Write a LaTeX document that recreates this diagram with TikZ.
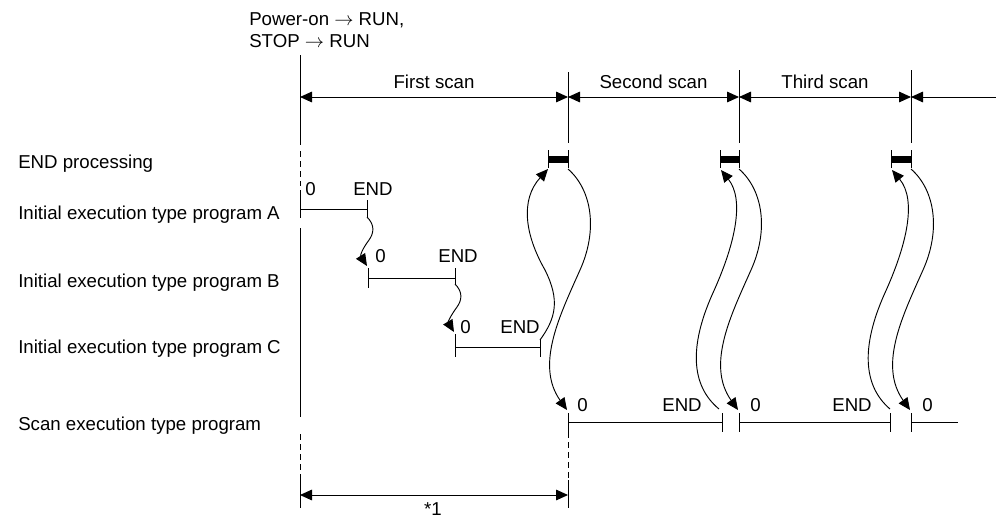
\documentclass[tikz,border=0pt]{standalone}
\usepackage{fontspec}
\setmainfont{Liberation Sans}
\usetikzlibrary{arrows.meta}

\begin{document}
\begin{tikzpicture}[x=0.75pt,y=-0.75pt]
	\tikzstyle{tline}=[draw,black,line width=0.7pt]
	\tikzstyle{dline}=[tline,dash pattern=on 4.5pt off 3pt]
	\tikzstyle{flow}=[tline,-{Triangle[length=9pt,width=8pt]}]
	\tikzstyle{dim}=[tline,{Triangle[length=9pt,width=8pt]}-{Triangle[length=9pt,width=8pt]}]
	\tikzstyle{lbl}=[inner sep=0pt,font=\fontsize{14}{16.5}\selectfont]

	\useasboundingbox (0,0) rectangle (996,519);

	% row titles
	\node[lbl,anchor=base west] (endproc) at (18,168) {END processing};
	\node[lbl,anchor=base west] (progA) at (18,219) {Initial execution type program A};
	\node[lbl,anchor=base west] (progB) at (18,287) {Initial execution type program B};
	\node[lbl,anchor=base west] (progC) at (18,353) {Initial execution type program C};
	\node[lbl,anchor=base west] (progS) at (18,430) {Scan execution type program};
	\node[lbl,anchor=base west,align=left] (trig) at (249,47) {Power-on $\rightarrow$ RUN,\\STOP $\rightarrow$ RUN};

	% scan borders
	\coordinate (s0) at (300,97);
	\coordinate (s1) at (568,97);
	\coordinate (s2) at (739,97);
	\coordinate (s3) at (911,97);
	\coordinate (s4) at (996,97);
	\draw[dim] (s0) -- node[lbl,above=6pt] (scan1) {First scan} (s1);
	\draw[dim] (s1) -- node[lbl,above=6pt] (scan2) {Second scan} (s2);
	\draw[dim] (s2) -- node[lbl,above=6pt] (scan3) {Third scan} (s3);
	\draw[tline,{Triangle[length=9pt,width=8pt]}-] (s3) -- (s4);
	\draw[tline] (568,72) -- (568,143);
	\draw[tline] (739,70) -- (739,143);
	\draw[tline] (911,70) -- (911,143);

	% time origin line
	\draw[tline] (300,55) -- (300,145);
	\draw[dline] (300,151) -- (300,186);
	\draw[tline] (300,190) -- (300,218);
	\draw[tline] (300,228) -- (300,417);
	\draw[dline] (300,434) -- (300,480);
	\draw[tline] (300,480) -- (300,508);
	\draw[dline] (568,432) -- (568,480);
	\draw[tline] (568,480) -- (568,508);

	% END processing
	\foreach \xl/\xr in {548/568,720/739,891/911} {
		\draw[tline] (\xl,150) -- (\xl,168);
		\draw[tline] (\xr,150) -- (\xr,168);
		\fill[black] (\xl,155.5) rectangle (\xr,162.5);
	}

	% program A
	\coordinate (aS) at (300,209);
	\coordinate (aE) at (367,209);
	\coordinate (aTail) at (367,217);
	\draw[tline] (aS) -- (aE);
	\draw[tline] (367,200) -- (aTail);
	\node[lbl,anchor=base west] (a0) at (305,195) {0};
	\node[lbl,anchor=base] (aEnd) at (373,195) {END};

	% program B
	\coordinate (bHead) at (367,266);
	\coordinate (bS) at (368,278);
	\coordinate (bE) at (455,278);
	\coordinate (bTail) at (455,284);
	\draw[tline] (bS) -- (bE);
	\draw[tline] (368,268) -- (368,288);
	\draw[tline] (455,268) -- (bTail);
	\node[lbl,anchor=base west] (b0) at (375,262) {0};
	\node[lbl,anchor=base] (bEnd) at (458,262) {END};
	\draw[flow] (aTail) .. controls (375,225) and (374,233) .. (369,240)
		.. controls (363,248) and (360,255) .. (bHead);

	% program C
	\coordinate (cHead) at (454,332);
	\coordinate (cS) at (455,347);
	\coordinate (cE) at (540,347);
	\coordinate (cTail) at (540,340);
	\draw[tline] (cS) -- (cE);
	\draw[tline] (455,334) -- (455,357);
	\draw[tline] (cTail) -- (540,357);
	\node[lbl,anchor=base west] (c0) at (460,333) {0};
	\node[lbl,anchor=base] (cEnd) at (520,333) {END};
	\draw[flow] (bTail) .. controls (463,292) and (462,300) .. (457,307)
		.. controls (451,315) and (448,322) .. (cHead);

	% scan program
	\draw[tline] (568,422) -- (722,422);
	\draw[tline] (739,422) -- (890,422);
	\draw[tline] (911,422) -- (958,422);
	\foreach \x in {568,722,739,890,911}
		\draw[tline] (\x,413) -- (\x,432);
	\node[lbl,anchor=base west] (d0) at (577,411) {0};
	\node[lbl,anchor=base] (dEnd) at (682,411) {END};
	\node[lbl,anchor=base west] (e0) at (750,411) {0};
	\node[lbl,anchor=base] (eEnd) at (852,411) {END};
	\node[lbl,anchor=base west] (f0) at (922,411) {0};

	% jumps to and from END processing
	\coordinate (bar1L) at (548,169);
	\coordinate (bar1R) at (568,169);
	\coordinate (bar2L) at (721,170);
	\coordinate (bar2R) at (739,169);
	\coordinate (bar3L) at (892,170);
	\coordinate (bar3R) at (911,169);
	\coordinate (dHead) at (567,410);
	\coordinate (dTail) at (719,409);
	\coordinate (eHead) at (738,410);
	\coordinate (eTail) at (890,409);
	\coordinate (fHead) at (910,410);
	\draw[flow] (cTail) .. controls (556,318) and (560,300) .. (545,270)
		.. controls (525,235) and (520,200) .. (bar1L);
	\draw[flow] (bar1R) .. controls (592,190) and (598,230) .. (580,270)
		.. controls (560,315) and (535,365) .. (dHead);
	\draw[flow] (dTail) .. controls (690,385) and (690,345) .. (712,295)
		.. controls (735,245) and (745,200) .. (bar2L);
	\draw[flow] (bar2R) .. controls (763,190) and (769,230) .. (751,270)
		.. controls (731,315) and (706,365) .. (eHead);
	\draw[flow] (eTail) .. controls (862,385) and (862,345) .. (884,295)
		.. controls (907,245) and (917,200) .. (bar3L);
	\draw[flow] (bar3R) .. controls (935,190) and (941,230) .. (923,270)
		.. controls (903,315) and (878,365) .. (fHead);

	% first scan time
	\coordinate (t0) at (300,495);
	\coordinate (t1) at (568,495);
	\draw[dim] (t0) -- (t1);
	\node[lbl,anchor=base] (note) at (433,515) {*1};
\end{tikzpicture}
\end{document}
